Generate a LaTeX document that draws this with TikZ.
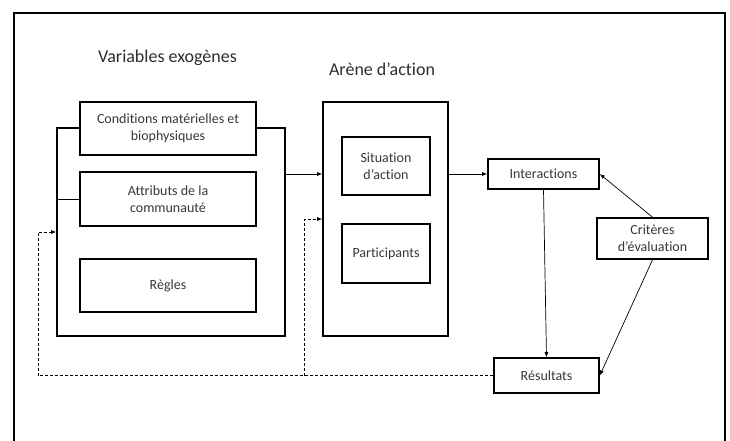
\documentclass[tikz,border=0pt]{standalone}
\usepackage{fontspec}
\setmainfont[Ligatures={NoCommon}]{Carlito}
\usetikzlibrary{arrows.meta}

\tikzset{
    panel/.style={draw, line width=1.6pt, fill=white, align=center, inner sep=0pt, text=black!78, font=\fontsize{14}{16.7}\selectfont},
    link/.style={line width=0.7pt, -{Latex[length=5pt,width=4pt]}},
    feedback/.style={link, dash pattern=on 3pt off 2pt},
    heading/.style={text=black!82, font=\fontsize{18}{21.6}\selectfont},
}

\begin{document}
\begin{tikzpicture}[x=1pt, y=-1pt]
\useasboundingbox (0,0) rectangle (730,441);

\draw[line width=1.2pt] (14,441) -- (14,13) -- (725,13) -- (725,441);

\node[heading] (exotitle) at (167.5,58) {Variables exogènes};
\node[heading] (arenatitle) at (382,69) {Arène d’action};

% exogenous variables
\node[panel, minimum width=228pt, minimum height=208pt] (exo) at (171,232) {};
\foreach \boxname/\boxy/\boxh/\boxtext in {cond/128.5/53/{Conditions matérielles et\\biophysiques}, attr/199/54/{Attributs de la\\communauté}, regles/285.5/53/{Règles}}
    \node[panel, minimum width=176pt, minimum height=\boxh*1pt] (\boxname) at (168,\boxy) {\boxtext};

% action arena
\node[panel, minimum width=125pt, minimum height=234pt] (arena) at (385.5,219) {};
\node[panel, minimum width=88pt, minimum height=58pt] (sit) at (386,166) {Situation\\d’action};
\node[panel, minimum width=88pt, minimum height=59pt] (part) at (386,253.5) {Participants};

\node[panel, minimum width=111pt, minimum height=30pt] (inter) at (543.5,174) {Interactions};
\node[panel, minimum width=111pt, minimum height=41pt] (crit) at (652.5,238.5) {Critères\\d’évaluation};
\node[panel, minimum width=105pt, minimum height=35pt] (res) at (546.5,375.5) {Résultats};

\draw[link] (exo.east |- inter.west) -- (arena.west |- inter.west);
\draw[link] (arena.east |- inter.west) -- (inter.west);
\draw[line width=0.7pt] (exo.west |- attr.west) -- (attr.west);
\draw[link] (inter.south) -- (res.north);
\draw[link] (crit.north) -- (inter.east);
\draw[link] (crit.south) -- (res.east);

% feedback loop
\coordinate (backleft) at (38,375.5);
\coordinate (backmid) at (304,375.5);
\draw[feedback] (res.west) -- (backleft) |- (exo.west);
\draw[feedback] (backmid) |- (arena.west);

\end{tikzpicture}
\end{document}
